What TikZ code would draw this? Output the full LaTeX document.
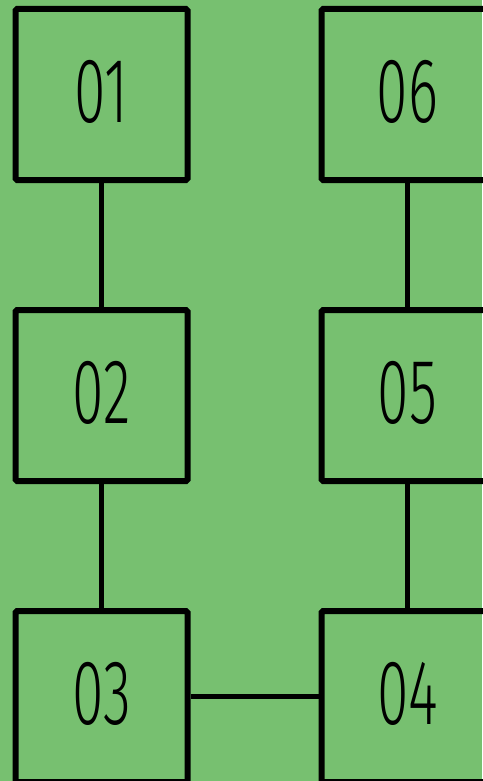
\documentclass[tikz,border=0pt]{standalone}
\usepackage{fontspec}
\setmainfont{Fira Sans Light}
\usepackage{tikz}
\usetikzlibrary{positioning}
\definecolor{stepgreen}{RGB}{119, 192, 112}

\newcommand{\stepnum}[1]{\raisebox{6pt}{\fontsize{92}{92}\selectfont\scalebox{0.62}[1]{#1}}}

\begin{document}
\begin{tikzpicture}[x=1pt, y=1pt, node distance=124pt,
    stepbox/.style={draw, line width=6pt, rounded corners=1.5pt, rectangle, inner sep=0pt, minimum width=172pt, minimum height=171pt},
    link/.style={line width=5pt}]
    \fill [stepgreen] (0,0) rectangle (482,-781);
    \useasboundingbox (0,0) rectangle (482,-781);

    \node [stepbox] (s1) at (101.5,-94.5) {\stepnum{01}};
    \node [stepbox, below=of s1] (s2) {\stepnum{02}};
    \node [stepbox, below=of s2] (s3) {\stepnum{03}};
    \node [stepbox, right=128pt of s3] (s4) {\stepnum{04}};
    \node [stepbox, above=of s4] (s5) {\stepnum{05}};
    \node [stepbox, above=of s5] (s6) {\stepnum{06}};

    \draw [link] (s1) -- (s2);
    \draw [link] (s2) -- (s3);
    \draw [link] (s3) -- (s4);
    \draw [link] (s4) -- (s5);
    \draw [link] (s5) -- (s6);
\end{tikzpicture}
\end{document}
